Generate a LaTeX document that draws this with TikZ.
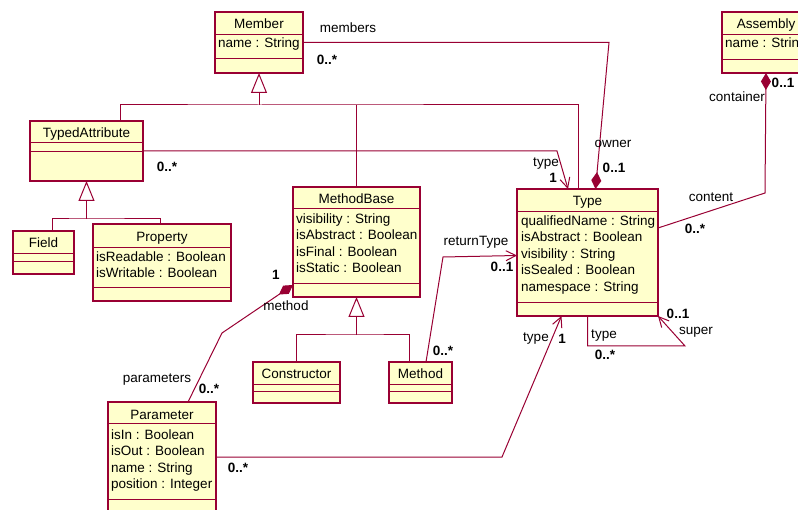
\documentclass[tikz,border=0pt]{standalone}
\usepackage{fontspec}
\setmainfont{Liberation Sans}
\usetikzlibrary{arrows.meta,calc}
\definecolor{umlred}{RGB}{153,0,51}
\definecolor{umlfill}{RGB}{255,255,204}
\newcommand{\umlfont}{\fontsize{13.5}{16.5}\selectfont}
\tikzset{
	classbox/.style={draw=umlred, fill=umlfill, line width=1.6pt, rectangle, anchor=north west, inner sep=0pt, outer sep=0pt},
	sepline/.style={draw=umlred, line width=1pt},
	classtitle/.style={anchor=base, inner sep=0pt, font=\umlfont},
	classattr/.style={anchor=north west, align=left, inner sep=0pt, font=\umlfont},
	umlline/.style={draw=umlred, line width=1pt},
	genline/.style={umlline, -{Triangle[length=20pt,width=16pt,fill=white]}},
	navline/.style={umlline, -{Straight Barb[length=10pt,width=10pt]}},
	ownline/.style={umlline, {Diamond[length=17pt,width=10pt,fill=umlred]}-},
	rolelabel/.style={inner sep=0pt, font=\umlfont},
	multlabel/.style={inner sep=0pt, font=\umlfont\bfseries},
}

\begin{document}
\begin{tikzpicture}[x=1pt, y=-1pt]
			%%%%% START %%%%%
			\useasboundingbox (0,0) rectangle (798,510);
			\fill[white] (0,0) rectangle (798,510);
			\clip (0,0) rectangle (798,510);
			
			\node[classbox, minimum width=88, minimum height=61] (member) at (215,12) {};
			\draw[sepline] (215,35) -- (303,35);
			\draw[sepline] (215,59) -- (303,59);
			\node[classtitle] (membertitle) at (259,29) {Member};
			\node[classattr] (memberattr) at (218,38) {name : String};
			
			\node[classbox, minimum width=88, minimum height=61] (assembly) at (722,12) {};
			\draw[sepline] (722,35) -- (810,35);
			\draw[sepline] (722,60) -- (810,60);
			\node[classtitle] (assemblytitle) at (766,29) {Assembly};
			\node[classattr] (assemblyattr) at (725,38) {name : String};
			
			\node[classbox, minimum width=113, minimum height=60] (typedattr) at (30,121) {};
			\draw[sepline] (30,143) -- (143,143);
			\draw[sepline] (30,152) -- (143,152);
			\node[classtitle] (typedattrtitle) at (86.5,137.5) {TypedAttribute};
			
			\node[classbox, minimum width=61, minimum height=43] (field) at (13,231) {};
			\draw[sepline] (13,254) -- (74,254);
			\draw[sepline] (13,262) -- (74,262);
			\node[classtitle] (fieldtitle) at (43.5,248) {Field};
			
			\node[classbox, minimum width=138, minimum height=77] (property) at (93,224) {};
			\draw[sepline] (93,248) -- (231,248);
			\draw[sepline] (93,288) -- (231,288);
			\node[classtitle] (propertytitle) at (162,241.5) {Property};
			\node[classattr] (propertyattr) at (96,251.5) {isReadable : Boolean\\isWritable : Boolean};
			
			\node[classbox, minimum width=127, minimum height=110] (methodbase) at (293,187) {};
			\draw[sepline] (293,209) -- (420,209);
			\draw[sepline] (293,284) -- (420,284);
			\node[classtitle] (methodbasetitle) at (356.5,203.5) {MethodBase};
			\node[classattr] (methodbaseattr) at (296,213.5) {visibility : String\\isAbstract : Boolean\\isFinal : Boolean\\isStatic : Boolean};
			
			\node[classbox, minimum width=141, minimum height=127] (type) at (517,189) {};
			\draw[sepline] (517,212) -- (658,212);
			\draw[sepline] (517,303) -- (658,303);
			\node[classtitle] (typetitle) at (587.5,206) {Type};
			\node[classattr] (typeattr) at (521,215.5) {qualifiedName : String\\isAbstract : Boolean\\visibility : String\\isSealed : Boolean\\namespace : String};
			
			\node[classbox, minimum width=87, minimum height=41] (constructor) at (253,362) {};
			\draw[sepline] (253,384.5) -- (340,384.5);
			\draw[sepline] (253,392) -- (340,392);
			\node[classtitle] (constructortitle) at (296.5,378.5) {Constructor};
			
			\node[classbox, minimum width=63, minimum height=41] (method) at (389,362) {};
			\draw[sepline] (389,384.5) -- (452,384.5);
			\draw[sepline] (389,392) -- (452,392);
			\node[classtitle] (methodtitle) at (420.5,378.5) {Method};
			
			\node[classbox, minimum width=108, minimum height=110] (parameter) at (108,402) {};
			\draw[sepline] (108,424) -- (216,424);
			\draw[sepline] (108,499) -- (216,499);
			\node[classtitle] (parametertitle) at (162,419.5) {Parameter};
			\node[classattr] (parameterattr) at (111,429.5) {isIn : Boolean\\isOut : Boolean\\name : String\\position : Integer};
			
			% generalizations
			\coordinate (memberbus) at (259,105);
			\draw[umlline] ($(typedattr.north)+(33.5,0)$) |- (memberbus) -| ($(type.north)+(-9.5,0)$);
			\draw[umlline] (methodbase.north) -- (methodbase.north |- memberbus);
			\draw[genline] (memberbus) -- (member.south);
			
			\coordinate (attrbus) at (86.5,219);
			\draw[umlline] ($(field.north)+(8.5,0)$) |- (attrbus) -| ($(property.north)+(-2,0)$);
			\draw[genline] (attrbus) -- (typedattr.south);
			
			\coordinate (methodbus) at (356.5,335);
			\draw[umlline] (constructor.north) |- (methodbus) -| ($(method.north)+(-11.5,0)$);
			\draw[genline] (methodbus) -- (methodbase.south);
			
			% associations
			\draw[ownline] ($(type.north)+(8,0)$) -- (609,42.5) -- (member.east);
			\draw[navline] (typedattr.east) -- (557,151) -- ($(type.north)+(-19.5,0)$);
			\draw[ownline] (assembly.south) -- (765,193) -- ($(type.north east)+(0,39)$);
			\draw[navline] ($(method.north)+(5.5,0)$) -- (443,257) -- ($(type.west)+(0,3)$);
			\draw[navline] (type.south) -- (587.5,346) -- (685,346) -- (type.south east);
			\draw[navline] (parameter.east) -- (502,457) -- ($(type.south)+(-26,0)$);
			\draw[ownline] ($(methodbase.south west)+(0,-12)$) -- (222,333) -- ($(parameter.north)+(26,0)$);
			
			\node[rolelabel] (memberslbl) at (348,28) {members};
			\node[multlabel] (membersmult) at (327,60) {0..*};
			\node[rolelabel] (ownerlbl) at (613,144) {owner};
			\node[multlabel] (ownermult) at (614,168) {0..1};
			\node[rolelabel] (attrtypelbl) at (546,164) {type};
			\node[multlabel] (attrtypemult) at (553,178) {1};
			\node[multlabel] (attrmult) at (167,167) {0..*};
			\node[multlabel] (containermult) at (783,83) {0..1};
			\node[rolelabel] (containerlbl) at (737,97) {container};
			\node[rolelabel] (contentlbl) at (711,197) {content};
			\node[multlabel] (contentmult) at (695,229) {0..*};
			\node[rolelabel] (returnlbl) at (476,242) {returnType};
			\node[multlabel] (returnmult) at (502,267) {0..1};
			\node[multlabel] (methodmult) at (443,351) {0..*};
			\node[rolelabel] (selftypelbl) at (604,336) {type};
			\node[multlabel] (selftypemult) at (605,355) {0..*};
			\node[multlabel] (supermult) at (678,314) {0..1};
			\node[rolelabel] (superlbl) at (696,332) {super};
			\node[rolelabel] (paramtypelbl) at (536,339) {type};
			\node[multlabel] (paramtypemult) at (562,339) {1};
			\node[multlabel] (parammult) at (238,468) {0..*};
			\node[multlabel] (methodbasemult) at (276,275) {1};
			\node[rolelabel] (methodlbl) at (286,306) {method};
			\node[rolelabel] (paramslbl) at (157,380) {parameters};
			\node[multlabel] (paramsmult) at (209,389) {0..*};
			
			%%%%% END %%%%%
\end{tikzpicture}
\end{document}
